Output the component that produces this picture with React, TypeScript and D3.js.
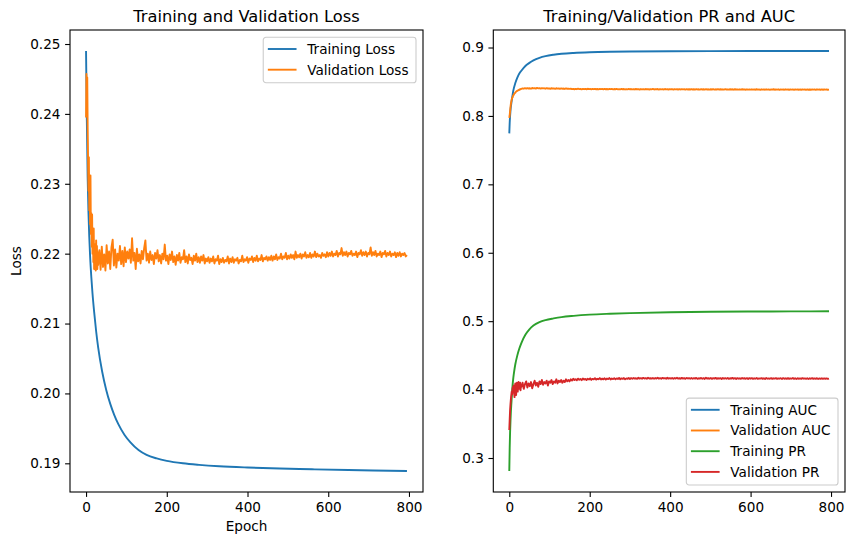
import React, { useEffect, useRef } from "react";
import * as d3 from "d3";

const WIDTH = 855;
const HEIGHT = 545;
const FONT = "DejaVu Sans, sans-serif";

const COLORS = {
  blue: "#1f77b4",
  orange: "#ff7f0e",
  green: "#2ca02c",
  red: "#d62728",
};

// validation metrics: every epoch for the first 30, then every 3rd epoch
const valEpochs = d3.range(0, 30).concat(d3.range(30, 796, 3));

// training curves are smooth, so a sparse set of epochs is enough
const trainLossEpochs = [
  0, 2, 4, 6, 8, 10, 13, 16, 20, 25, 30, 40, 50, 60, 70, 80, 95, 110, 130, 150,
  175, 200, 240, 280, 330, 400, 480, 560, 650, 795,
];
const trainLoss = [
  0.249, 0.2389, 0.2309, 0.2259, 0.2224, 0.2197, 0.2167, 0.2143, 0.2117, 0.2089,
  0.2066, 0.2031, 0.2005, 0.1985, 0.1969, 0.1956, 0.1941, 0.193, 0.1919, 0.1912,
  0.1907, 0.19035, 0.19, 0.18978, 0.18958, 0.1894, 0.18925, 0.18914, 0.18904, 0.1889,
];

const valLoss = [
  0.2395, 0.2457, 0.2412, 0.2452, 0.2380, 0.2336, 0.2290, 0.2338, 0.2262, 0.2305,
  0.2242, 0.2312, 0.2228, 0.2258, 0.2210, 0.2256, 0.2200, 0.2232, 0.2188, 0.2236,
  0.2178, 0.2214, 0.2186, 0.2205, 0.2176, 0.2219, 0.2183, 0.2211, 0.2178, 0.2202,
  // 30..150
  0.2184, 0.2205, 0.2177, 0.2210, 0.2181, 0.2199, 0.2176, 0.2212, 0.2186, 0.2203,
  0.2178, 0.2209, 0.2220, 0.2183, 0.2206, 0.2180, 0.2200, 0.2190, 0.2211, 0.2185,
  0.2204, 0.2182, 0.2209, 0.2188, 0.2203, 0.2193, 0.2206, 0.2187, 0.2222, 0.2190,
  0.2201, 0.2178, 0.2207, 0.2189, 0.2199, 0.2186, 0.2204, 0.2192, 0.2208, 0.2219,
  0.2190,
  // 153..300
  0.2200, 0.2187, 0.2203, 0.2191, 0.2198, 0.2185, 0.2201, 0.2193, 0.2205, 0.2189,
  0.2198, 0.2186, 0.2200, 0.2192, 0.2213, 0.2190, 0.2197, 0.2185, 0.2199, 0.2191,
  0.2203, 0.2188, 0.2196, 0.2184, 0.2198, 0.2190, 0.2201, 0.2187, 0.2195, 0.2192,
  0.2205, 0.2188, 0.2196, 0.2186, 0.2199, 0.2191, 0.2194, 0.2185, 0.2197, 0.2190,
  0.2200, 0.2188, 0.2195, 0.2187, 0.2196, 0.2190, 0.2198, 0.2186, 0.2193, 0.2189,
  // 303..450
  0.2195, 0.2187, 0.2193, 0.2189, 0.2196, 0.2186, 0.2192, 0.2190, 0.2197, 0.2185,
  0.2192, 0.2188, 0.2194, 0.2187, 0.2191, 0.2189, 0.2196, 0.2186, 0.2193, 0.2188,
  0.2195, 0.2187, 0.2192, 0.2190, 0.2194, 0.2186, 0.2191, 0.2189, 0.2197, 0.2188,
  0.2192, 0.2190, 0.2195, 0.2187, 0.2193, 0.2191, 0.2196, 0.2188, 0.2194, 0.2190,
  0.2197, 0.2189, 0.2193, 0.2191, 0.2198, 0.2189, 0.2194, 0.2192, 0.2196, 0.2190,
  // 453..600
  0.2195, 0.2191, 0.2197, 0.2190, 0.2196, 0.2192, 0.2199, 0.2191, 0.2195, 0.2193,
  0.2200, 0.2192, 0.2196, 0.2194, 0.2201, 0.2192, 0.2197, 0.2193, 0.2199, 0.2194,
  0.2198, 0.2192, 0.2203, 0.2194, 0.2198, 0.2195, 0.2200, 0.2193, 0.2199, 0.2196,
  0.2202, 0.2194, 0.2198, 0.2195, 0.2201, 0.2194, 0.2199, 0.2196, 0.2203, 0.2195,
  0.2200, 0.2196, 0.2198, 0.2194, 0.2201, 0.2197, 0.2199, 0.2195, 0.2202, 0.2196,
  // 603..795
  0.2201, 0.2197, 0.2203, 0.2196, 0.2200, 0.2198, 0.2204, 0.2196, 0.2201, 0.2199,
  0.2208, 0.2197, 0.2202, 0.2198, 0.2203, 0.2196, 0.2201, 0.2199, 0.2204, 0.2197,
  0.2200, 0.2198, 0.2203, 0.2195, 0.2201, 0.2199, 0.2205, 0.2197, 0.2202, 0.2198,
  0.2203, 0.2196, 0.2201, 0.2199, 0.2209, 0.2197, 0.2202, 0.2198, 0.2204, 0.2196,
  0.2200, 0.2198, 0.2203, 0.2195, 0.2201, 0.2199, 0.2204, 0.2196, 0.2201, 0.2198,
  0.2203, 0.2196, 0.2200, 0.2198, 0.2202, 0.2195, 0.2201, 0.2197, 0.2202, 0.2196,
  0.2200, 0.2198, 0.2201, 0.2196, 0.2198,
];

const trainAucEpochs = [
  0, 1, 2, 3, 5, 7, 10, 15, 20, 25, 30, 40, 50, 60, 75, 90, 110, 130, 160, 200,
  250, 300, 400, 500, 600, 700, 795,
];
const trainAuc = [
  0.7745, 0.790, 0.800, 0.808, 0.818, 0.826, 0.837, 0.848, 0.856, 0.862,
  0.866, 0.873, 0.8775, 0.8812, 0.885, 0.8875, 0.8895, 0.8908, 0.892, 0.893,
  0.8937, 0.8941, 0.8945, 0.8947, 0.8948, 0.8949, 0.8949,
];

const valAuc = [
  0.7970, 0.8010, 0.8070, 0.8130, 0.8180, 0.8210, 0.8240, 0.8260, 0.8270, 0.8290,
  0.8300, 0.8310, 0.8320, 0.8330, 0.8335, 0.8340, 0.8350, 0.8355, 0.8360, 0.8365,
  0.8370, 0.8368, 0.8376, 0.8380, 0.8378, 0.8386, 0.8384, 0.8390, 0.8388, 0.8394,
  // 30..150
  0.8396, 0.8402, 0.8398, 0.8405, 0.8399, 0.8407, 0.8401, 0.8404, 0.8398, 0.8408,
  0.8402, 0.8406, 0.8400, 0.8409, 0.8403, 0.8405, 0.8399, 0.8407, 0.8402, 0.8404,
  0.8398, 0.8406, 0.8401, 0.8403, 0.8397, 0.8405, 0.8400, 0.8402, 0.8396, 0.8404,
  0.8399, 0.8401, 0.8395, 0.8403, 0.8398, 0.8400, 0.8394, 0.8402, 0.8397, 0.8399,
  0.8395,
  // 153..300
  0.8397, 0.8392, 0.8396, 0.8390, 0.8395, 0.8391, 0.8398, 0.8392, 0.8394, 0.8389,
  0.8396, 0.8391, 0.8395, 0.8390, 0.8397, 0.8392, 0.8394, 0.8388, 0.8395, 0.8391,
  0.8396, 0.8390, 0.8393, 0.8389, 0.8395, 0.8391, 0.8394, 0.8388, 0.8396, 0.8390,
  0.8393, 0.8389, 0.8395, 0.8391, 0.8394, 0.8388, 0.8393, 0.8390, 0.8395, 0.8389,
  0.8392, 0.8388, 0.8394, 0.8390, 0.8393, 0.8387, 0.8392, 0.8389, 0.8394, 0.8388,
  // 303..450
  0.8393, 0.8388, 0.8392, 0.8387, 0.8394, 0.8389, 0.8391, 0.8386, 0.8393, 0.8388,
  0.8392, 0.8387, 0.8393, 0.8389, 0.8391, 0.8386, 0.8392, 0.8388, 0.8394, 0.8387,
  0.8391, 0.8389, 0.8393, 0.8386, 0.8392, 0.8388, 0.8391, 0.8387, 0.8393, 0.8388,
  0.8390, 0.8386, 0.8392, 0.8389, 0.8391, 0.8385, 0.8392, 0.8388, 0.8390, 0.8386,
  0.8391, 0.8387, 0.8392, 0.8388, 0.8390, 0.8385, 0.8391, 0.8387, 0.8390, 0.8386,
  // 453..600
  0.8391, 0.8386, 0.8390, 0.8385, 0.8392, 0.8387, 0.8389, 0.8384, 0.8391, 0.8386,
  0.8390, 0.8385, 0.8391, 0.8387, 0.8389, 0.8384, 0.8390, 0.8386, 0.8392, 0.8385,
  0.8389, 0.8387, 0.8391, 0.8384, 0.8390, 0.8386, 0.8389, 0.8385, 0.8391, 0.8386,
  0.8388, 0.8384, 0.8390, 0.8387, 0.8389, 0.8383, 0.8390, 0.8386, 0.8388, 0.8384,
  0.8389, 0.8385, 0.8390, 0.8386, 0.8388, 0.8383, 0.8389, 0.8385, 0.8388, 0.8384,
  // 603..795
  0.8389, 0.8384, 0.8388, 0.8383, 0.8390, 0.8385, 0.8387, 0.8382, 0.8389, 0.8384,
  0.8388, 0.8383, 0.8389, 0.8385, 0.8387, 0.8382, 0.8388, 0.8384, 0.8390, 0.8383,
  0.8387, 0.8385, 0.8389, 0.8382, 0.8388, 0.8384, 0.8387, 0.8383, 0.8389, 0.8384,
  0.8386, 0.8382, 0.8388, 0.8385, 0.8387, 0.8381, 0.8388, 0.8384, 0.8386, 0.8382,
  0.8387, 0.8383, 0.8388, 0.8384, 0.8386, 0.8381, 0.8387, 0.8383, 0.8386, 0.8382,
  0.8388, 0.8384, 0.8387, 0.8382, 0.8389, 0.8384, 0.8386, 0.8383, 0.8388, 0.8383,
  0.8387, 0.8384, 0.8386, 0.8383, 0.8385,
];

const trainPrEpochs = [
  0, 1, 2, 3, 4, 5, 6, 8, 10, 12, 15, 20, 25, 30, 40, 50, 60, 75, 90, 110,
  130, 160, 200, 250, 300, 400, 500, 600, 700, 795,
];
const trainPr = [
  0.281, 0.315, 0.338, 0.355, 0.368, 0.378, 0.387, 0.405, 0.417, 0.426,
  0.437, 0.45, 0.46, 0.468, 0.48, 0.488, 0.4935, 0.4985, 0.5015, 0.504,
  0.506, 0.5078, 0.5095, 0.5108, 0.5118, 0.513, 0.5137, 0.5141, 0.5143, 0.5144,
];

const valPr = [
  0.341, 0.356, 0.370, 0.379, 0.386, 0.392, 0.397, 0.393, 0.401, 0.404,
  0.398, 0.406, 0.395, 0.389, 0.402, 0.409, 0.400, 0.392, 0.405, 0.410,
  0.403, 0.397, 0.407, 0.411, 0.401, 0.408, 0.404, 0.410, 0.399, 0.406,
  // 30..150
  0.404, 0.410, 0.401, 0.408, 0.412, 0.403, 0.409, 0.405, 0.411, 0.402,
  0.408, 0.413, 0.406, 0.410, 0.404, 0.412, 0.408, 0.414, 0.407, 0.411,
  0.409, 0.413, 0.406, 0.412, 0.410, 0.414, 0.408, 0.412, 0.410, 0.415,
  0.409, 0.413, 0.411, 0.414, 0.410, 0.413, 0.411, 0.415, 0.412, 0.414,
  0.412,
  // 153..300
  0.4150, 0.4132, 0.4158, 0.4140, 0.4152, 0.4136, 0.4160, 0.4144, 0.4155, 0.4138,
  0.4162, 0.4146, 0.4156, 0.4140, 0.4158, 0.4148, 0.4164, 0.4142, 0.4157, 0.4150,
  0.4166, 0.4146, 0.4158, 0.4152, 0.4168, 0.4148, 0.4160, 0.4150, 0.4165, 0.4147,
  0.4161, 0.4153, 0.4168, 0.4149, 0.4162, 0.4154, 0.4167, 0.4150, 0.4163, 0.4155,
  0.4170, 0.4151, 0.4164, 0.4156, 0.4168, 0.4152, 0.4163, 0.4157, 0.4169, 0.4154,
  // 303..450
  0.4168, 0.4158, 0.4170, 0.4160, 0.4166, 0.4157, 0.4172, 0.4161, 0.4167, 0.4159,
  0.4171, 0.4162, 0.4168, 0.4158, 0.4173, 0.4161, 0.4166, 0.4160, 0.4170, 0.4159,
  0.4169, 0.4162, 0.4174, 0.4160, 0.4167, 0.4158, 0.4171, 0.4163, 0.4168, 0.4159,
  0.4172, 0.4161, 0.4167, 0.4160, 0.4170, 0.4158, 0.4169, 0.4162, 0.4173, 0.4160,
  0.4166, 0.4159, 0.4171, 0.4161, 0.4168, 0.4157, 0.4170, 0.4162, 0.4167, 0.4159,
  // 453..600
  0.4169, 0.4158, 0.4167, 0.4160, 0.4171, 0.4157, 0.4166, 0.4161, 0.4170, 0.4158,
  0.4168, 0.4156, 0.4172, 0.4160, 0.4166, 0.4159, 0.4169, 0.4157, 0.4167, 0.4161,
  0.4171, 0.4158, 0.4166, 0.4160, 0.4168, 0.4156, 0.4170, 0.4159, 0.4167, 0.4158,
  0.4169, 0.4157, 0.4166, 0.4160, 0.4171, 0.4158, 0.4167, 0.4156, 0.4168, 0.4159,
  0.4165, 0.4157, 0.4170, 0.4160, 0.4166, 0.4158, 0.4168, 0.4156, 0.4167, 0.4159,
  // 603..795
  0.4167, 0.4157, 0.4165, 0.4159, 0.4169, 0.4156, 0.4164, 0.4160, 0.4168, 0.4157,
  0.4166, 0.4155, 0.4170, 0.4159, 0.4164, 0.4158, 0.4167, 0.4156, 0.4165, 0.4160,
  0.4168, 0.4157, 0.4164, 0.4159, 0.4166, 0.4155, 0.4168, 0.4158, 0.4165, 0.4157,
  0.4167, 0.4156, 0.4164, 0.4159, 0.4169, 0.4157, 0.4165, 0.4155, 0.4166, 0.4158,
  0.4163, 0.4156, 0.4167, 0.4159, 0.4164, 0.4157, 0.4166, 0.4155, 0.4165, 0.4158,
  0.4167, 0.4156, 0.4163, 0.4158, 0.4166, 0.4155, 0.4164, 0.4157, 0.4165, 0.4156,
  0.4163, 0.4158, 0.4164, 0.4156, 0.4161,
];

const epochTicks = [0, 200, 400, 600, 800];
const lossTicks = [0.19, 0.2, 0.21, 0.22, 0.23, 0.24, 0.25];
const metricTicks = [0.3, 0.4, 0.5, 0.6, 0.7, 0.8, 0.9];

type Series = { label: string; x: number[]; y: number[]; color: string; smooth: boolean };

// matplotlib-style autoscale: 5% padding on both ends
const padded = (lo: number, hi: number) => {
  const m = (hi - lo) * 0.05;
  return [lo - m, hi + m];
};

function drawPanel(svg, p) {
  const series: Series[] = p.series;
  const allX = series.flatMap((s) => s.x.slice(0, s.y.length));
  const allY = series.flatMap((s) => s.y);
  const x = d3.scaleLinear().domain(padded(d3.min(allX), d3.max(allX))).range([p.left, p.right]);
  const y = d3.scaleLinear().domain(padded(d3.min(allY), d3.max(allY))).range([p.bottom, p.top]);

  const g = svg.append("g");

  series.forEach((s) => {
    const line = d3
      .line<number>()
      .x((_, i) => x(s.x[i]))
      .y((d) => y(d))
      .curve(s.smooth ? d3.curveMonotoneX : d3.curveLinear);
    g.append("path")
      .datum(s.y)
      .attr("fill", "none")
      .attr("stroke", s.color)
      .attr("stroke-width", 1.9)
      .attr("stroke-linejoin", "round")
      .attr("stroke-linecap", "butt")
      .attr("d", line);
  });

  const xAxis = g
    .append("g")
    .attr("transform", `translate(0,${p.bottom})`)
    .call(d3.axisBottom(x).tickValues(epochTicks).tickSize(4.9).tickPadding(5.2).tickSizeOuter(0));
  const yAxis = g
    .append("g")
    .attr("transform", `translate(${p.left},0)`)
    .call(
      d3.axisLeft(y).tickValues(p.yTicks).tickFormat(d3.format(p.yFormat)).tickSize(4.9).tickPadding(4.6).tickSizeOuter(0)
    );
  [xAxis, yAxis].forEach((a) => {
    a.select(".domain").remove();
    a.selectAll("line").attr("stroke", "#000").attr("stroke-width", 1.1);
    a.selectAll("text").attr("fill", "#000").attr("font-family", FONT).attr("font-size", 13.6);
  });

  // spines
  g.append("rect")
    .attr("x", p.left)
    .attr("y", p.top)
    .attr("width", p.right - p.left)
    .attr("height", p.bottom - p.top)
    .attr("fill", "none")
    .attr("stroke", "#000")
    .attr("stroke-width", 1.1);

  g.append("text")
    .attr("x", (p.left + p.right) / 2)
    .attr("y", p.top - 8)
    .attr("text-anchor", "middle")
    .attr("font-family", FONT)
    .attr("font-size", 16.3)
    .text(p.title);

  if (p.xLabel) {
    g.append("text")
      .attr("x", (p.left + p.right) / 2)
      .attr("y", p.bottom + 38.5)
      .attr("text-anchor", "middle")
      .attr("font-family", FONT)
      .attr("font-size", 13.6)
      .text(p.xLabel);
  }
  if (p.yLabel) {
    g.append("text")
      .attr("transform", `translate(${p.left - 49},${(p.top + p.bottom) / 2}) rotate(-90)`)
      .attr("text-anchor", "middle")
      .attr("font-family", FONT)
      .attr("font-size", 13.6)
      .text(p.yLabel);
  }

  // legend
  const rowH = 20.7;
  const boxH = 4.1 + series.length * rowH;
  const leg = g.append("g");
  const bg = leg
    .append("rect")
    .attr("rx", 2.8)
    .attr("fill", "#fff")
    .attr("fill-opacity", 0.8)
    .attr("stroke", "#cccccc")
    .attr("stroke-width", 1.1);
  const labels = series.map((s, i) => {
    const cy = 11.7 + i * rowH;
    leg.append("line")
      .attr("x1", 4.6)
      .attr("x2", 33.3)
      .attr("y1", cy)
      .attr("y2", cy)
      .attr("stroke", s.color)
      .attr("stroke-width", 1.9);
    return leg
      .append("text")
      .attr("x", 44)
      .attr("y", cy)
      .attr("dy", "0.36em")
      .attr("font-family", FONT)
      .attr("font-size", 13.6)
      .text(s.label);
  });
  const textW = d3.max(labels, (t) => (t.node() as SVGTextElement).getComputedTextLength()) || 0;
  const boxW = 44 + textW + 7.5;
  bg.attr("width", boxW).attr("height", boxH);
  const lx = p.right - 7 - boxW;
  const ly = p.legend === "upper right" ? p.top + 7.3 : p.bottom - 7 - boxH;
  leg.attr("transform", `translate(${lx},${ly})`);
}

const App = () => {
  const ref = useRef<SVGSVGElement>(null);

  useEffect(() => {
    const svg = d3.select(ref.current);
    svg.selectAll("*").remove();

    drawPanel(svg, {
      left: 70,
      right: 423,
      top: 30,
      bottom: 492,
      title: "Training and Validation Loss",
      xLabel: "Epoch",
      yLabel: "Loss",
      yTicks: lossTicks,
      yFormat: ".2f",
      legend: "upper right",
      series: [
        { label: "Training Loss", x: trainLossEpochs, y: trainLoss, color: COLORS.blue, smooth: true },
        { label: "Validation Loss", x: valEpochs, y: valLoss, color: COLORS.orange, smooth: false },
      ],
    });

    drawPanel(svg, {
      left: 493.3,
      right: 845,
      top: 30,
      bottom: 492,
      title: "Training/Validation PR and AUC",
      yTicks: metricTicks,
      yFormat: ".1f",
      legend: "lower right",
      series: [
        { label: "Training AUC", x: trainAucEpochs, y: trainAuc, color: COLORS.blue, smooth: true },
        { label: "Validation AUC", x: valEpochs, y: valAuc, color: COLORS.orange, smooth: false },
        { label: "Training PR", x: trainPrEpochs, y: trainPr, color: COLORS.green, smooth: true },
        { label: "Validation PR", x: valEpochs, y: valPr, color: COLORS.red, smooth: false },
      ],
    });
  });

  return (
    <svg
      ref={ref}
      width={WIDTH}
      height={HEIGHT}
      style={{ position: "absolute", left: 0, top: 0, background: "#fff" }}
    ></svg>
  );
};

export default App;
